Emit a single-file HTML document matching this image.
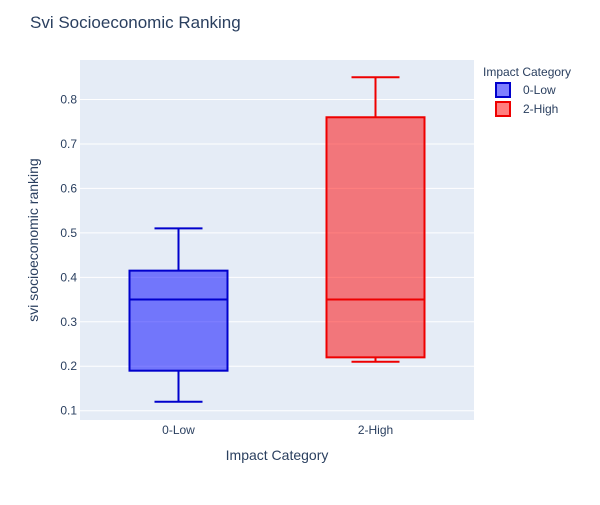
<!DOCTYPE html>
<html><head><meta charset="utf-8"><style>
body{margin:0;background:#fff;font-family:"Liberation Sans",Arial,sans-serif;}
svg text{font-family:"Liberation Sans",Arial,sans-serif;fill:#2a3f5f;}
</style></head><body>
<svg id="chart" width="600" height="500">
<rect width="600" height="500" fill="#fff"/>
<text x="30" y="28" font-size="17">Svi Socioeconomic Ranking</text>
<rect x="80" y="60" width="394" height="360" fill="#e5ecf6"/>
<g id="grid"></g>
<g id="boxes"></g>
<text x="277" y="460" font-size="14" text-anchor="middle">Impact Category</text>
<text transform="translate(38,240) rotate(-90)" font-size="14" text-anchor="middle">svi socioeconomic ranking</text>
<g>
<text x="483" y="76" font-size="12">Impact Category</text>
<g>
<rect x="496" y="83" width="14" height="14" fill="rgba(0,0,255,0.5)" stroke="#0000cc" stroke-width="2"/>
<text x="523" y="94" font-size="12">0-Low</text></g>
<g>
<rect x="496" y="102" width="14" height="14" fill="rgba(255,0,0,0.5)" stroke="#ee0000" stroke-width="2"/>
<text x="523" y="113" font-size="12">2-High</text></g>
</g>
</svg>
<script>
const categories=["0-Low","2-High"];
const mins=[0.12,0.21];
const q1s=[0.19,0.22];
const medians=[0.35,0.35];
const q3s=[0.415,0.76];
const maxs=[0.51,0.85];
const yTicks=[0.1,0.2,0.3,0.4,0.5,0.6,0.7,0.8];
const fills=["rgba(0,0,255,0.5)","rgba(255,0,0,0.5)"];
const strokes=["#0000cc","#ee0000"];
const NS="http://www.w3.org/2000/svg";
const y=v=>410.7-(v-0.1)*444.6;
const x=i=>80+394*(i+0.5)/categories.length;
function mk(t,a,p){const e=document.createElementNS(NS,t);for(const k in a)e.setAttribute(k,a[k]);p.appendChild(e);return e;}
const g=document.getElementById('grid');
yTicks.forEach(t=>{
 const l=mk('line',{x1:80,x2:474,y1:y(t),y2:y(t),stroke:'#fff','stroke-width':1},g);
 
 
 const tx=mk('text',{x:77,y:y(t)+4,'font-size':12,'text-anchor':'end'},g);
 tx.textContent=t.toFixed(1);
 
 
});
const b=document.getElementById('boxes');
categories.forEach((c,i)=>{
 const cx=x(i),hw=49,cw=24;
 const grp=mk('g',{},b);
 
 
 const s={stroke:strokes[i],'stroke-width':2,fill:'none'};
 mk('line',Object.assign({x1:cx,x2:cx,y1:y(maxs[i]),y2:y(q3s[i])},s),grp);
 mk('line',Object.assign({x1:cx,x2:cx,y1:y(q1s[i]),y2:y(mins[i])},s),grp);
 mk('line',Object.assign({x1:cx-cw,x2:cx+cw,y1:y(maxs[i]),y2:y(maxs[i])},s),grp);
 mk('line',Object.assign({x1:cx-cw,x2:cx+cw,y1:y(mins[i]),y2:y(mins[i])},s),grp);
 mk('rect',{x:cx-hw,y:y(q3s[i]),width:2*hw,height:y(q1s[i])-y(q3s[i]),fill:fills[i],stroke:strokes[i],'stroke-width':2},grp);
 mk('line',Object.assign({x1:cx-hw,x2:cx+hw,y1:y(medians[i]),y2:y(medians[i])},s),grp);
 const tx=mk('text',{x:cx,y:434,'font-size':12,'text-anchor':'middle'},b);
 tx.textContent=c;
 
 
});
</script>
</body></html>
